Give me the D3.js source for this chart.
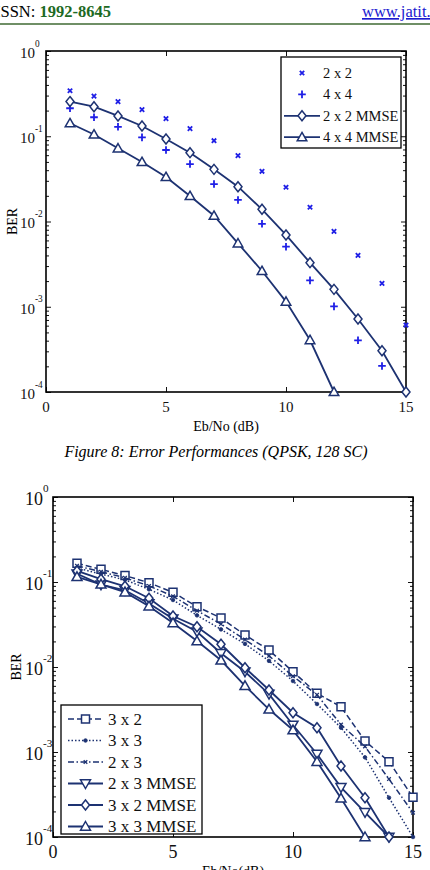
<!DOCTYPE html>
<html>
<head>
<meta charset="utf-8">
<script src="https://cdn.jsdelivr.net/npm/d3@7"></script>
<style>
  body { margin: 0; background: #fff; }
  svg { display: block; font-family: "Liberation Serif", "Times New Roman", serif; }
</style>
</head>
<body>
<svg id="page" width="430" height="870"></svg>
<script>
// Eb/No values (dB)
var snr = [1, 2, 3, 4, 5, 6, 7, 8, 9, 10, 11, 12, 13, 14, 15];

// figure 8 (QPSK, 128 SC)
var ber2x2 = [0.342, 0.296, 0.255, 0.205, 0.161, 0.123, 0.0887, 0.0592, 0.0388, 0.0252, 0.0147, 0.00767, 0.00401, 0.00188, 0.00061];
var ber4x4 = [0.213, 0.167, 0.129, 0.097, 0.069, 0.0472, 0.0275, 0.0179, 0.0094, 0.00506, 0.00204, 0.00101, 0.000404, 0.000202];
var ber2x2mmse = [0.255, 0.222, 0.173, 0.132, 0.0929, 0.0642, 0.0409, 0.0256, 0.0139, 0.00695, 0.00329, 0.0016, 0.000718, 0.000305, 0.0001];
var ber4x4mmse = [0.142, 0.105, 0.0722, 0.0499, 0.0333, 0.0199, 0.0117, 0.00555, 0.00263, 0.00115, 0.000407, 0.0001];

// second figure
var ber3x2 = [0.166, 0.141, 0.119, 0.098, 0.0755, 0.0513, 0.0377, 0.0238, 0.0158, 0.0088, 0.0049, 0.0034, 0.00135, 0.00077, 0.000293];
var ber3x3 = [0.146, 0.124, 0.106, 0.082, 0.0614, 0.0405, 0.0277, 0.0187, 0.0118, 0.00684, 0.00367, 0.00193, 0.000865, 0.00029, 0.0001];
var ber2x3 = [0.155, 0.132, 0.112, 0.09, 0.068, 0.046, 0.032, 0.021, 0.0135, 0.0078, 0.0047, 0.0021, 0.00116, 0.00048, 0.000193];
var ber2x3mmse = [0.125, 0.093, 0.08, 0.056, 0.037, 0.026, 0.0145, 0.0088, 0.0048, 0.00208, 0.000946, 0.000384, 0.000195, 0.0001];
var ber3x2mmse = [0.135, 0.108, 0.089, 0.0643, 0.0398, 0.0298, 0.0185, 0.0098, 0.00536, 0.0029, 0.00193, 0.000684, 0.00029, 0.0001];
var ber3x3mmse = [0.115, 0.094, 0.076, 0.052, 0.033, 0.0202, 0.012, 0.006, 0.00318, 0.00181, 0.00077, 0.000285, 0.0001];

var xTicks = [0, 5, 10, 15];
var yExps = [0, -1, -2, -3, -4];

var svg = d3.select("#page");
var navy = "#1d3272";
var blue = "#1f1fe6";

// marker shapes
var marks = {
  xmark: function(s){ return "M"+(-s)+","+(-s)+"L"+s+","+s+"M"+(-s)+","+s+"L"+s+","+(-s); },
  plus: function(s){ return "M"+(-s)+",0L"+s+",0M0,"+(-s)+"L0,"+s; },
  diamond: function(s){ return "M0,"+(-s*1.25)+"L"+s+",0L0,"+(s*1.25)+"L"+(-s)+",0Z"; },
  triUp: function(s){ return "M0,"+(-s)+"L"+s+","+(s*0.75)+"L"+(-s)+","+(s*0.75)+"Z"; },
  triDown: function(s){ return "M0,"+s+"L"+s+","+(-s*0.75)+"L"+(-s)+","+(-s*0.75)+"Z"; },
  square: function(s){ return "M"+(-s)+","+(-s)+"H"+s+"V"+s+"H"+(-s)+"Z"; },
  dot: function(s){ return "M"+(-s)+",0a"+s+","+s+" 0 1,0 "+(2*s)+",0a"+s+","+s+" 0 1,0 "+(-2*s)+",0"; }
};

function drawMark(g, type, size, color, sw, px, py){
  var filled = type === "dot";
  var open = type === "diamond" || type === "triUp" || type === "triDown" || type === "square";
  g.append("path")
    .attr("d", marks[type](size))
    .attr("transform", "translate(" + px + "," + py + ")")
    .attr("fill", filled ? color : (open ? "#fff" : "none"))
    .attr("stroke", color)
    .attr("stroke-width", sw);
}

// header
svg.append("text").attr("x", -5).attr("y", 17).attr("font-size", 16.5)
  .text("ISSN: ")
  .append("tspan").attr("fill", "#1d6a24").attr("font-weight", "bold").text("1992-8645");
svg.append("text").attr("x", 362).attr("y", 17).attr("font-size", 16.5)
  .attr("fill", "#1a1ad0").attr("text-decoration", "underline").text("www.jatit.org");
svg.append("rect").attr("x", 0).attr("y", 23).attr("width", 430).attr("height", 2).attr("fill", "#6f8f66");

function drawChart(c){
  var g = svg.append("g");
  var x = d3.scaleLinear().domain([0, 15]).range([c.left, c.right]);
  var y = d3.scaleLog().domain([1e-4, 1]).range([c.bottom, c.top]);

  var minor = [];
  yExps.slice(1).forEach(function(e){
    for (var k = 2; k <= 9; k++) minor.push(k * Math.pow(10, e));
  });
  var major = yExps.map(function(e){ return Math.pow(10, e); });

  // ticks, inside the box, on all four sides
  [[d3.axisLeft, c.left], [d3.axisRight, c.right]].forEach(function(a){
    g.append("g").attr("transform", "translate(" + a[1] + ",0)")
      .call(a[0](y).tickValues(minor).tickSize(-3).tickSizeOuter(0).tickFormat(""));
    g.append("g").attr("transform", "translate(" + a[1] + ",0)")
      .call(a[0](y).tickValues(major).tickSize(-5).tickSizeOuter(0).tickFormat(""));
  });
  g.append("g").attr("transform", "translate(0," + c.bottom + ")")
    .call(d3.axisBottom(x).tickValues(xTicks).tickSize(-5).tickSizeOuter(0).tickFormat(""));
  g.append("g").attr("transform", "translate(0," + c.top + ")")
    .call(d3.axisTop(x).tickValues(xTicks).tickSize(-5).tickSizeOuter(0).tickFormat(""));
  g.selectAll(".domain").remove();
  g.selectAll(".tick line").attr("stroke", "#111").attr("stroke-width", 1);

  g.append("rect")
    .attr("x", c.left).attr("y", c.top)
    .attr("width", c.right - c.left).attr("height", c.bottom - c.top)
    .attr("fill", "none").attr("stroke", "#000").attr("stroke-width", 1.6);

  // tick labels
  yExps.forEach(function(e){
    var t = g.append("text").attr("x", c.ylabX).attr("y", y(Math.pow(10, e)) + c.tickFs * 0.45)
      .attr("font-size", c.tickFs).attr("fill", "#111");
    t.append("tspan").text("10");
    t.append("tspan").attr("dy", -c.tickFs * 0.75).attr("font-size", c.tickFs * 0.62).text(e);
  });
  xTicks.forEach(function(v){
    g.append("text").attr("x", x(v)).attr("y", c.bottom + c.xlabDy)
      .attr("text-anchor", "middle").attr("font-size", c.tickFs).attr("fill", "#111").text(v);
  });
  g.append("text").attr("x", (c.left + c.right) / 2).attr("y", c.xTitleY)
    .attr("text-anchor", "middle").attr("font-size", c.titleFs).text(c.xTitle);
  g.append("text").attr("transform", "translate(" + c.yTitleX + "," + ((c.top + c.bottom) / 2) + ") rotate(-90)")
    .attr("text-anchor", "middle").attr("font-size", c.titleFs).text("BER");

  // series
  var line = d3.line().x(function(d){ return x(d[0]); }).y(function(d){ return y(d[1]); });
  c.series.forEach(function(s){
    var pts = s.values.map(function(v, i){ return [snr[i], v]; });
    if (s.line) {
      g.append("path").datum(pts).attr("d", line)
        .attr("fill", "none").attr("stroke", s.color).attr("stroke-width", s.lw)
        .attr("stroke-dasharray", s.dash || null);
    }
    pts.forEach(function(p){
      drawMark(g, s.mark, s.ms, s.color, s.msw, x(p[0]), y(p[1]));
    });
  });

  // legend
  var L = c.legend;
  g.append("rect").attr("x", L.x).attr("y", L.y).attr("width", L.w).attr("height", L.h)
    .attr("fill", "#fff").attr("stroke", "#000").attr("stroke-width", 1.3);
  c.series.forEach(function(s, i){
    var ly = L.y + L.first + i * L.step;
    if (s.line) {
      g.append("line").attr("x1", L.x + L.lx1).attr("x2", L.x + L.lx2).attr("y1", ly).attr("y2", ly)
        .attr("stroke", s.color).attr("stroke-width", s.lw).attr("stroke-dasharray", s.dash || null);
    }
    drawMark(g, s.mark, s.ms, s.color, s.msw, L.x + (L.lx1 + L.lx2) / 2, ly);
    g.append("text").attr("x", L.x + L.tx).attr("y", ly + L.fs * 0.33)
      .attr("font-size", L.fs).attr("fill", "#111").text(s.name);
  });
}

drawChart({
  left: 46, right: 406, top: 51, bottom: 392,
  tickFs: 15, ylabX: 20, xlabDy: 20, titleFs: 14,
  xTitle: "Eb/No (dB)", xTitleY: 431, yTitleX: 17,
  series: [
    { name: "2 x 2", values: ber2x2, mark: "xmark", ms: 2.2, msw: 1.8, color: blue, line: false },
    { name: "4 x 4", values: ber4x4, mark: "plus", ms: 3.8, msw: 1.8, color: blue, line: false },
    { name: "2 x 2 MMSE", values: ber2x2mmse, mark: "diamond", ms: 4, msw: 1.5, color: navy, line: true, lw: 1.8 },
    { name: "4 x 4 MMSE", values: ber4x4mmse, mark: "triUp", ms: 4.8, msw: 1.5, color: navy, line: true, lw: 1.8 }
  ],
  legend: { x: 281, y: 57, w: 120, h: 91, first: 16, step: 21.4, lx1: 3, lx2: 39, tx: 42, fs: 14.5 }
});

svg.append("text").attr("x", 216).attr("y", 457).attr("text-anchor", "middle")
  .attr("font-size", 16).attr("font-style", "italic")
  .text("Figure 8: Error Performances (QPSK, 128 SC)");

drawChart({
  left: 53, right: 413, top: 497, bottom: 837,
  tickFs: 18, ylabX: 25, xlabDy: 21, titleFs: 14,
  xTitle: "Eb/No(dB)", xTitleY: 876, yTitleX: 21,
  series: [
    { name: "3 x 2", values: ber3x2, mark: "square", ms: 4, msw: 1.5, color: navy, line: true, lw: 1.5, dash: "6,3" },
    { name: "3 x 3", values: ber3x3, mark: "dot", ms: 1.8, msw: 0.8, color: navy, line: true, lw: 1.5, dash: "1.5,2" },
    { name: "2 x 3", values: ber2x3, mark: "xmark", ms: 1.8, msw: 1.3, color: navy, line: true, lw: 1.5, dash: "6,2.5,1.5,2.5" },
    { name: "2 x 3 MMSE", values: ber2x3mmse, mark: "triDown", ms: 5, msw: 1.5, color: navy, line: true, lw: 1.8 },
    { name: "3 x 2 MMSE", values: ber3x2mmse, mark: "diamond", ms: 4, msw: 1.5, color: navy, line: true, lw: 1.8 },
    { name: "3 x 3 MMSE", values: ber3x3mmse, mark: "triUp", ms: 5, msw: 1.5, color: navy, line: true, lw: 1.8 }
  ],
  legend: { x: 61, y: 705, w: 141, h: 129, first: 14, step: 21.5, lx1: 7, lx2: 42, tx: 47, fs: 17 }
});
</script>
</body>
</html>
